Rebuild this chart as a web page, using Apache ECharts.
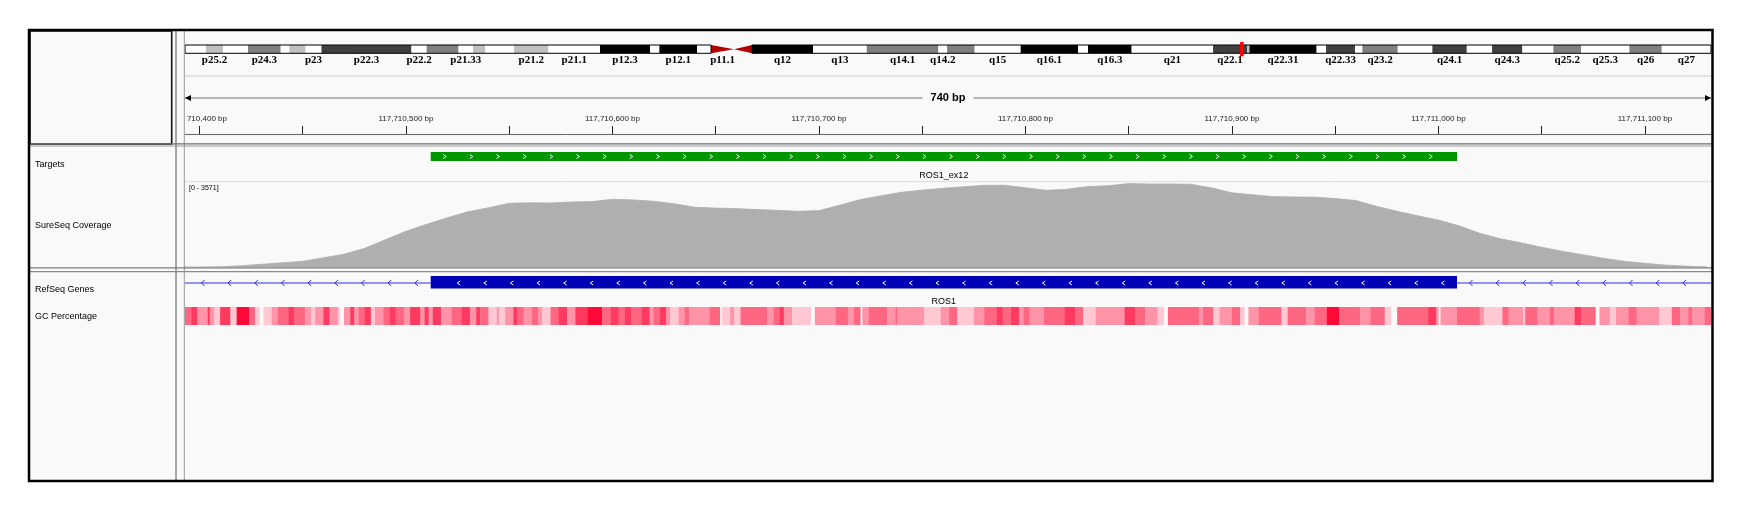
<!DOCTYPE html>
<html><head><meta charset="utf-8">
<script src="https://cdn.jsdelivr.net/npm/echarts@6/dist/echarts.min.js"></script>
<style>html,body{margin:0;padding:0;background:#fff;}#c{width:1746px;height:513px;}</style>
</head><body><div id="c"></div>
<script>
// ---------------- data ----------------
const VIEW_START = 117710393;
const VIEW_END = 117711132;
const SPAN_LABEL = '740 bp';

// chromosome 6 ideogram (Mb)
const CHROM_LENGTH = 171.1;
const bandNames = ['p25.3','p25.2','p25.1','p24.3','p24.2','p24.1','p23','p22.3','p22.2','p22.1','p21.33','p21.32','p21.31','p21.2','p21.1','p12.3','p12.2','p12.1','p11.2','p11.1','q11.1','q12','q13','q14.1','q14.2','q14.3','q15','q16.1','q16.2','q16.3','q21','q22.1','q22.2','q22.31','q22.32','q22.33','q23.1','q23.2','q23.3','q24.1','q24.2','q24.3','q25.1','q25.2','q25.3','q26','q27'];
const bandStart = [0,2.35,4.26,7.06,10.73,11.70,13.52,15.30,25.39,27.10,30.67,32.29,33.67,36.89,40.75,46.53,52.14,53.19,57.41,58.98,61.56,63.58,70.42,76.44,84.47,85.45,88.54,93.70,100.13,101.25,106.14,115.27,119.08,119.35,126.88,127.94,131.19,132.01,135.98,139.86,143.72,146.55,149.95,153.43,156.53,161.95,165.58];
const bandStain = ['gneg','gpos25','gneg','gpos50','gneg','gpos25','gneg','gpos75','gneg','gpos50','gneg','gpos25','gneg','gpos25','gneg','gpos100','gneg','gpos100','gneg','acen','acen','gpos100','gneg','gpos50','gneg','gpos50','gneg','gpos100','gneg','gpos100','gneg','gpos75','gpos25','gpos100','gneg','gpos75','gneg','gpos50','gneg','gpos75','gneg','gpos75','gneg','gpos50','gneg','gpos50','gneg'];
const bandLabel = ['','p25.2','','p24.3','','','p23','p22.3','p22.2','','p21.33','','','p21.2','p21.1','p12.3','','p12.1','','p11.1','','q12','q13','q14.1','q14.2','','q15','q16.1','','q16.3','q21','q22.1','','q22.31','','q22.33','','q23.2','','q24.1','','q24.3','','q25.2','q25.3','q26','q27'];
const viewMarker = [118.30, 118.70];

// ruler
const rulerLabelValues = [117710400,117710500,117710600,117710700,117710800,117710900,117711000,117711100];
const rulerTickValues = [117710400,117710450,117710500,117710550,117710600,117710650,117710700,117710750,117710800,117710850,117710900,117710950,117711000,117711050,117711100];

// Targets
const targetStart = [117710512];
const targetEnd = [117711009];
const targetName = ['ROS1_ex12'];

// SureSeq Coverage
const COV_MAX = 3571;
const covPos = [117710390,117710400,117710410,117710420,117710430,117710440,117710450,117710460,117710470,117710480,117710490,117710500,117710510,117710520,117710530,117710540,117710550,117710560,117710570,117710580,117710590,117710600,117710610,117710620,117710630,117710640,117710650,117710660,117710670,117710680,117710690,117710700,117710710,117710720,117710730,117710740,117710750,117710760,117710770,117710780,117710790,117710800,117710810,117710820,117710830,117710840,117710850,117710860,117710870,117710880,117710890,117710900,117710910,117710920,117710930,117710940,117710950,117710960,117710970,117710980,117710990,117711000,117711010,117711020,117711030,117711040,117711050,117711060,117711070,117711080,117711090,117711100,117711110,117711120,117711130];
const covVal = [0,0,10,50,113,176,240,386,534,786,1143,1500,1794,2067,2319,2487,2676,2697,2689,2731,2747,2844,2819,2760,2655,2508,2474,2453,2411,2382,2340,2369,2592,2831,2991,3138,3230,3306,3369,3432,3432,3327,3222,3264,3378,3411,3504,3487,3487,3474,3327,3117,3033,2957,2941,2936,2873,2794,2550,2340,2151,1970,1731,1416,1185,1017,828,660,513,365,240,155,80,38,8];

// RefSeq Genes
const geneName = ['ROS1'];
const exonStart = [117710512];
const exonEnd = [117711009];

// GC Percentage runs (start offset in bp from VIEW_START, GC %; null = no data)
const gcOffset = [0,3,6,11,12,14,17,22,25,31,34,36,38,42,45,50,53,58,61,63,67,70,74,75,77,80,82,84,87,90,92,96,99,102,106,109,114,116,118,120,124,129,134,138,141,143,147,151,152,155,159,161,164,168,171,173,177,181,185,189,195,202,206,210,213,216,221,225,227,230,233,235,239,242,244,254,259,260,264,266,269,282,285,288,290,294,303,305,315,321,324,327,328,331,340,344,345,358,366,370,374,382,387,393,396,400,404,406,409,416,426,431,435,441,455,460,465,471,474,476,491,493,498,501,507,511,513,515,520,531,534,543,547,553,559,569,574,581,584,587,602,606,607,608,616,627,629,638,641,648,649,655,661,663,673,676,683,685,690,693,699,703,714,720,724,728,730,736,739];
const gcValue = [55,65,45,65,45,35,65,35,75,55,35,null,35,45,55,65,55,45,35,45,65,45,35,null,45,65,45,55,65,35,45,55,65,55,45,65,45,65,45,65,45,55,65,45,65,55,35,45,35,45,65,55,45,55,45,35,55,65,45,65,75,55,65,55,65,55,65,45,55,65,45,35,45,55,45,55,null,35,45,35,55,45,55,65,45,35,null,45,55,45,55,null,45,55,45,55,45,35,45,55,35,45,55,65,55,65,45,55,45,55,65,55,35,45,65,55,45,35,null,55,45,55,35,45,55,35,null,45,55,35,55,45,55,75,55,45,55,35,null,55,65,45,null,45,55,45,35,55,45,35,55,45,55,45,65,55,null,45,35,45,55,45,35,55,45,55,45,55,45];
const GC_END = 740;

const trackNames = ['Targets','SureSeq Coverage','RefSeq Genes','GC Percentage'];

// ---------------- chart ----------------
const stainColor = {gneg:'#ffffff', gpos25:'#c0c0c0', gpos50:'#808080', gpos75:'#404040', gpos100:'#000000', acen:'#b40000'};
const L = 185, W = 1526;
const sansF = '"Liberation Sans", Arial, sans-serif';
function txt(text, x, y, font, align, extra){
  return Object.assign({type:'text', x:x, y:y, style:{text:text, font:font, fill:'#000', align:align||'center', verticalAlign:'middle', textAlign:align||'center', textVerticalAlign:'middle'}}, extra||{});
}
const bandData = bandStart.map((s,i)=>[s, i+1<bandStart.length ? bandStart[i+1] : CHROM_LENGTH]);
const cenFirst = bandStain.indexOf('acen'), cenLast = bandStain.lastIndexOf('acen');
const armData = [[0, bandData[cenFirst][0]], [bandData[cenLast][1], CHROM_LENGTH]];
const gcData = [];
gcOffset.forEach((o,i)=>{ if (gcValue[i] !== null) gcData.push([VIEW_START+o, VIEW_START+(i+1<gcOffset.length?gcOffset[i+1]:GC_END), gcValue[i]]); });

const chart = echarts.init(document.getElementById('c'), null, {renderer:'canvas', width:1746, height:513});
const grids = [
  {left:L, width:W, top:45, height:8.3},
  {left:L, width:W, top:90, height:44},
  {left:L, width:W, top:147, height:35},
  {left:L, width:W, top:182, height:85},
  {left:L, width:W, top:272, height:28},
  {left:L, width:W, top:307, height:18}
];
const xAxes = grids.map((g,i)=>({gridIndex:i, type:'value', show:false, min:VIEW_START, max:VIEW_END, splitLine:{show:false}}));
xAxes[0].min = 0; xAxes[0].max = CHROM_LENGTH;
xAxes[1] = {gridIndex:1, type:'value', min:VIEW_START, max:VIEW_END, position:'bottom',
  axisLine:{show:true, lineStyle:{color:'#666', width:1}},
  axisTick:{show:true, inside:true, length:8, customValues:rulerTickValues, lineStyle:{color:'#222', width:1}},
  axisLabel:{show:true, inside:true, margin:11, customValues:rulerLabelValues, color:'#222', fontSize:8, fontFamily:sansF,
    formatter:v=>String(v).replace(/\B(?=(\d{3})+(?!\d))/g, ',') + ' bp'},
  splitLine:{show:false}};
const yAxes = grids.map((g,i)=>({gridIndex:i, type:'value', show:false, min:0, max:1, splitLine:{show:false}}));
yAxes[3].max = COV_MAX;

const arrowL = (cx, cy, s, color) => ({type:'polyline', shape:{points:[[cx+1.5,cy-s],[cx-1.5,cy],[cx+1.5,cy+s]]}, style:{stroke:color, lineWidth:1, fill:null}});
const arrowR = (cx, cy, s, color) => ({type:'polyline', shape:{points:[[cx-1.5,cy-s],[cx+1.5,cy],[cx-1.5,cy+s]]}, style:{stroke:color, lineWidth:1, fill:null}});

const series = [
  { // ideogram bands
    type:'custom', xAxisIndex:0, yAxisIndex:0, data:bandData, silent:true,
    renderItem:(params, api)=>{
      const i = params.dataIndex;
      const p0 = api.coord([api.value(0), 1]), p1 = api.coord([api.value(1), 0]);
      const x = p0[0], y = p0[1], w = p1[0]-p0[0], h = p1[1]-p0[1];
      const kids = [];
      if (bandStain[i] === 'acen') {
        const pts = bandNames[i][0]==='p' ? [[x,y],[x+w,y+h/2],[x,y+h]] : [[x+w,y],[x,y+h/2],[x+w,y+h]];
        kids.push({type:'polygon', shape:{points:pts}, style:{fill:stainColor.acen}});
      } else {
        kids.push({type:'rect', shape:{x:x, y:y, width:w, height:h}, style:{fill:stainColor[bandStain[i]]}});
      }
      if (bandLabel[i]) kids.push(txt(bandLabel[i], x+w/2, y+h+7, 'bold 11px "Liberation Serif", serif'));
      return {type:'group', children:kids};
    }
  },
  { // arm outlines
    type:'custom', xAxisIndex:0, yAxisIndex:0, data:armData, silent:true,
    renderItem:(params, api)=>{
      const p0 = api.coord([api.value(0), 1]), p1 = api.coord([api.value(1), 0]);
      return {type:'rect', shape:{x:p0[0], y:p0[1], width:p1[0]-p0[0], height:p1[1]-p0[1]}, style:{fill:null, stroke:'#000', lineWidth:1}};
    }
  },
  { // current view marker
    type:'custom', xAxisIndex:0, yAxisIndex:0, data:[viewMarker], silent:true, z:5,
    renderItem:(params, api)=>{
      const p0 = api.coord([api.value(0), 1]), p1 = api.coord([api.value(1), 0]);
      const w = Math.max(3.5, p1[0]-p0[0]);
      return {type:'rect', shape:{x:p0[0], y:p0[1]-3, width:w, height:p1[1]-p0[1]+6}, style:{fill:'#ff0000'}};
    }
  },
  { // ruler span
    type:'custom', xAxisIndex:1, yAxisIndex:1, data:[[VIEW_START, VIEW_END]], silent:true,
    renderItem:(params, api)=>{
      const a = api.coord([api.value(0), 0])[0], b = api.coord([api.value(1), 0])[0];
      const cy = params.coordSys.y + 8;
      return {type:'group', children:[
        {type:'line', shape:{x1:a, y1:cy, x2:b, y2:cy}, style:{stroke:'#777', lineWidth:1.2}},
        {type:'polygon', shape:{points:[[a,cy],[a+6,cy-3],[a+6,cy+3]]}, style:{fill:'#000'}},
        {type:'polygon', shape:{points:[[b,cy],[b-6,cy-3],[b-6,cy+3]]}, style:{fill:'#000'}},
        txt(SPAN_LABEL, (a+b)/2, cy, 'bold 11px ' + sansF, 'center', {style:{text:SPAN_LABEL, font:'bold 11px ' + sansF, fill:'#000', align:'center', verticalAlign:'middle', textAlign:'center', textVerticalAlign:'middle', backgroundColor:'#f9f9f9', padding:[2,8]}})
      ]};
    }
  },
  { // targets
    type:'custom', xAxisIndex:2, yAxisIndex:2, data:targetStart.map((s,i)=>[s, targetEnd[i]]), silent:true,
    renderItem:(params, api)=>{
      const i = params.dataIndex;
      const x0 = api.coord([api.value(0), 0])[0], x1 = api.coord([api.value(1), 0])[0];
      const top = params.coordSys.y + 5, h = 9, cy = top + h/2;
      const kids = [{type:'rect', shape:{x:x0, y:top, width:x1-x0, height:h}, style:{fill:'#009600'}}];
      for (let cx = x0 + 14; cx < x1 - 8; cx += 26.65) kids.push(arrowR(cx, cy, 2, '#ffffff'));
      kids.push(txt(targetName[i], (x0+x1)/2, params.coordSys.y + 29, '9px ' + sansF));
      return {type:'group', children:kids};
    }
  },
  { // coverage
    type:'line', xAxisIndex:3, yAxisIndex:3, data:covPos.map((p,i)=>[p, covVal[i]]),
    showSymbol:false, symbol:'none', silent:true, clip:true,
    lineStyle:{width:0.8, color:'#afafaf'}, areaStyle:{color:'#afafaf', opacity:1}
  },
  { // gene
    type:'custom', xAxisIndex:4, yAxisIndex:4, data:exonStart.map((s,i)=>[s, exonEnd[i]]), silent:true,
    renderItem:(params, api)=>{
      const i = params.dataIndex, cs = params.coordSys;
      const x0 = api.coord([api.value(0), 0])[0], x1 = api.coord([api.value(1), 0])[0];
      const cy = cs.y + 11;
      const kids = [{type:'line', shape:{x1:cs.x, y1:cy, x2:cs.x+cs.width, y2:cy}, style:{stroke:'#2b2bf5', lineWidth:1}}];
      for (let cx = cs.x + 18; cx < x0 - 6; cx += 26.67) kids.push(arrowL(cx, cy, 3, '#2b2bf5'));
      for (let cx = x1 + 14; cx <= cs.x + cs.width; cx += 26.67) kids.push(arrowL(cx, cy, 3, '#2b2bf5'));
      kids.push({type:'rect', shape:{x:x0, y:cs.y+4, width:x1-x0, height:12.5}, style:{fill:'#0000b4'}});
      for (let cx = x0 + 28; cx < x1 - 8; cx += 26.6) kids.push(arrowL(cx, cy, 2, '#ffffff'));
      kids.push(txt(geneName[i], (x0+x1)/2, cs.y + 29.5, '9px ' + sansF));
      return {type:'group', children:kids};
    }
  },
  { // GC percentage
    type:'custom', xAxisIndex:5, yAxisIndex:5, data:gcData, silent:true, clip:true,
    encode:{x:[0,1]},
    renderItem:(params, api)=>{
      const cs = params.coordSys;
      const a = api.coord([api.value(0), 0])[0], b = api.coord([api.value(1), 0])[0];
      return {type:'rect', shape:{x:a, y:cs.y, width:b-a+0.3, height:cs.height}, style:{fill:api.visual('color')}};
    }
  }
];

const graphics = [
  // outside white margins
  {type:'rect', shape:{x:0, y:0, width:1746, height:30}, style:{fill:'#fff'}, z:30},
  {type:'rect', shape:{x:0, y:481, width:1746, height:32}, style:{fill:'#fff'}, z:30},
  {type:'rect', shape:{x:0, y:0, width:29, height:513}, style:{fill:'#fff'}, z:30},
  {type:'rect', shape:{x:1713, y:0, width:33, height:513}, style:{fill:'#fff'}, z:30},
  // left header cover (hides overflow of first ruler label)
  {type:'rect', shape:{x:29, y:80, width:155.5, height:63}, style:{fill:'#f9f9f9'}, z:10},
  {type:'rect', shape:{x:184, y:108, width:2.8, height:16}, style:{fill:'#f9f9f9'}, z:10},
  // ideogram / ruler separator
  {type:'line', shape:{x1:185, y1:76, x2:1711, y2:76}, style:{stroke:'#e3e3e3', lineWidth:2}, z:20},
  // coverage top line
  {type:'line', shape:{x1:185, y1:181.7, x2:1711, y2:181.7}, style:{stroke:'#dcdcdc', lineWidth:1}, z:20},
  // name box in header
  {type:'rect', shape:{x:30, y:31, width:141.7, height:113}, style:{fill:null, stroke:'#111', lineWidth:1.6}, z:21},
  // dividers
  {type:'line', shape:{x1:176, y1:30, x2:176, y2:481}, style:{stroke:'#555', lineWidth:1}, z:21},
  {type:'line', shape:{x1:184.3, y1:30, x2:184.3, y2:481}, style:{stroke:'#999', lineWidth:1}, z:21},
  // horizontal separators
  {type:'line', shape:{x1:29, y1:143.8, x2:1713, y2:143.8}, style:{stroke:'#6e6e6e', lineWidth:1.2}, z:21},
  {type:'line', shape:{x1:29, y1:146, x2:1713, y2:146}, style:{stroke:'#9a9a9a', lineWidth:1}, z:21},
  {type:'line', shape:{x1:29, y1:267.8, x2:1713, y2:267.8}, style:{stroke:'#7a7a7a', lineWidth:1.2}, z:21},
  {type:'line', shape:{x1:29, y1:271.6, x2:1713, y2:271.6}, style:{stroke:'#8a8a8a', lineWidth:1.2}, z:21},
  // track names
  Object.assign(txt(trackNames[0], 35, 164.5, '9px ' + sansF, 'left'), {z:22}),
  Object.assign(txt(trackNames[1], 35, 226, '9px ' + sansF, 'left'), {z:22}),
  Object.assign(txt(trackNames[2], 35, 290, '9px ' + sansF, 'left'), {z:22}),
  Object.assign(txt(trackNames[3], 35, 317, '9px ' + sansF, 'left'), {z:22}),
  Object.assign(txt('[0 - ' + COV_MAX + ']', 189, 188, '7px ' + sansF, 'left'), {z:22}),
  // outer frame
  {type:'rect', shape:{x:29, y:30, width:1683.5, height:451}, style:{fill:null, stroke:'#000', lineWidth:2.5}, z:31}
];

chart.setOption({
  backgroundColor:'#f9f9f9',
  animation:false,
  grid:grids, xAxis:xAxes, yAxis:yAxes,
  visualMap:{type:'piecewise', show:false, seriesIndex:7, dimension:2,
    pieces:[{min:30,max:40,color:'#ffc8d3'},{min:40,max:50,color:'#ff94a8'},{min:50,max:60,color:'#ff6682'},{min:60,max:70,color:'#ff3a60'},{min:70,max:80,color:'#ff0a38'}]},
  series:series,
  graphic:{elements:graphics}
});
</script></body></html>
